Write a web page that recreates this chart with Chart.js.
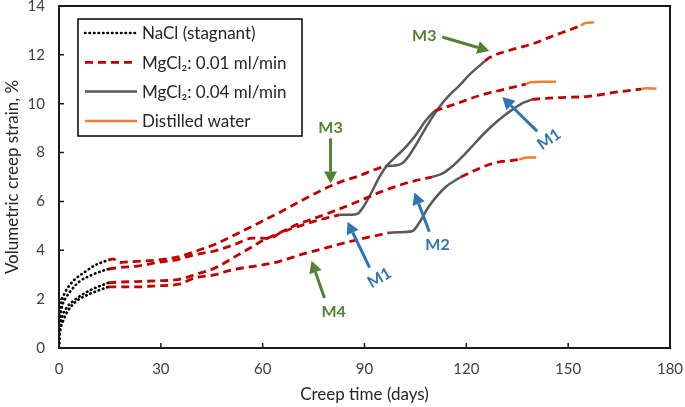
<!DOCTYPE html>
<html>
<head>
<meta charset="utf-8">
<script src="https://cdn.jsdelivr.net/npm/chart.js@4.4.1/dist/chart.umd.min.js"></script>
<style>
  html, body { margin: 0; padding: 0; background: #fff; }
  #wrap { width: 685px; height: 407px; }
</style>
</head>
<body>
<div id="wrap"><canvas id="chartCreep"></canvas></div>
<script>
// points are [creep time in days, volumetric creep strain in %]
// NaCl (stagnant) loading, four samples
const nacl1 = [[0,0],[0.1,0.8],[0.3,1.5],[0.7,1.9],[1.5,2.2],[3,2.55],[5,2.85],[7.5,3.1],[10.5,3.38],[14.5,3.6]];
const nacl2 = [[0,0],[0.1,0.7],[0.4,1.3],[1,1.75],[2,2.05],[3.5,2.35],[6,2.72],[9.5,2.98],[12,3.12],[14.5,3.23]];
const nacl3 = [[0,0],[0.1,0.5],[0.3,0.8],[1,1.3],[2,1.6],[4,1.9],[7,2.2],[10.5,2.45],[14.5,2.67]];
const nacl4 = [[0,0],[0.1,0.4],[0.5,0.8],[1.2,1.1],[2.5,1.5],[5,1.9],[8.5,2.18],[11.5,2.35],[14.5,2.5]];

// MgCl2 0.01 ml/min, first stage
const slow1a = [[14.5,3.6],[16,3.65],[17.5,3.5],[20,3.52],[23,3.55],[29,3.6],[35,3.73],[41.5,4.02],[46,4.25],[52,4.65],[60,5.2],[65,5.55],[71,6.0],[78,6.5],[84,6.85],[88.5,7.05],[92,7.25],[96,7.45]];
const slow2a = [[14.5,3.23],[18,3.3],[23,3.35],[29,3.5],[35,3.62],[40,3.82],[46,3.98],[52,4.25],[57,4.5],[60,4.5],[62,4.48],[65,4.7],[71,5.0],[76,5.22],[82.6,5.45]];
const slow3a = [[14.5,2.67],[18,2.7],[23,2.72],[29,2.75],[35,2.8],[40,3.0],[46,3.28],[52,3.75],[57,4.15],[60,4.4],[64,4.65],[70,5.05],[74,5.25],[80,5.55],[89,6.05],[95,6.4],[100,6.65],[105,6.85],[110,7.0]];
const slow4a = [[14.5,2.5],[23,2.5],[29,2.55],[35,2.6],[40,2.87],[46,3.0],[51,3.2],[60,3.4],[65,3.55],[72,3.85],[80,4.15],[88.5,4.45],[97.4,4.72]];

// MgCl2 0.04 ml/min
const fast1 = [[96,7.45],[99,7.47],[101,7.55],[103,7.85],[105.5,8.4],[108,9.0],[110,9.45],[112.5,9.95],[115,10.35],[118,10.75],[121,11.2],[125.5,11.75]];
const fast2 = [[82.6,5.45],[86,5.45],[88,5.5],[90,5.85],[92,6.35],[94,6.9],[96.5,7.45],[99,7.8],[102,8.2],[105,8.7],[108,9.3],[110.6,9.7]];
const fast3 = [[110,7.0],[113,7.15],[116,7.45],[119,7.85],[122,8.3],[125,8.75],[128,9.15],[131,9.5],[134,9.8],[137,10.05],[139.4,10.18]];
const fast4 = [[97.4,4.72],[100,4.74],[104,4.78],[106,5.1],[109,5.8],[114,6.6],[118.4,7.0]];

// MgCl2 0.01 ml/min, second stage
const slow1b = [[125.5,11.75],[127,11.9],[133,12.2],[139.5,12.45],[146,12.8],[150,13.0],[153.8,13.2]];
const slow2b = [[110.6,9.7],[117,10.0],[123.8,10.33],[130,10.55],[137.5,10.8]];
const slow3b = [[139.4,10.18],[147,10.25],[156,10.3],[163,10.45],[171.5,10.6]];
const slow4b = [[118.4,7.0],[123,7.3],[127.6,7.55],[135.6,7.72]];

// distilled water
const water1 = [[153.8,13.2],[155,13.3],[157.6,13.33]];
const water2 = [[137.5,10.8],[139,10.88],[143,10.9],[146.4,10.9]];
const water3 = [[171.5,10.6],[173,10.63],[176,10.62]];
const water4 = [[135.6,7.72],[138,7.8],[140.6,7.8]];

const xTicks = [0, 30, 60, 90, 120, 150, 180];
const yTicks = [0, 2, 4, 6, 8, 10, 12, 14];

const legendNames = ['NaCl (stagnant)', 'MgCl\u2082: 0.01 ml/min', 'MgCl\u2082: 0.04 ml/min', 'Distilled water'];

// annotation labels: text, colour, label point, arrow from -> to (data units), rotation
const notes = [
    { text: 'M3', color: '#548235', at: [107.6, 12.77], from: [112.9, 12.73], to: [126.8, 12.16], rot: 0 },
    { text: 'M3', color: '#548235', at: [80, 9.03], from: [80, 8.58], to: [80, 6.73], rot: 0 },
    { text: 'M4', color: '#548235', at: [80.9, 1.48], from: [78.2, 2.05], to: [74.4, 3.57], rot: 0 },
    { text: 'M1', color: '#2E75B6', at: [94.4, 2.87], from: [91.5, 3.29], to: [85, 5.17], rot: -30 },
    { text: 'M2', color: '#2E75B6', at: [111.5, 4.23], from: [109.1, 4.76], to: [104.7, 6.37], rot: 0 },
    { text: 'M1', color: '#2E75B6', at: [144.4, 8.54], from: [140.9, 8.87], to: [130.6, 10.27], rot: -35 }
];

const styles = [
    { color: '#000000', width: 2.6, dash: [0.5, 4] },
    { color: '#C00000', width: 2.8, dash: [8, 5] },
    { color: '#595959', width: 2.5, dash: [] },
    { color: '#ED7D31', width: 2.5, dash: [] }
];

const groups = [
    [nacl1, nacl2, nacl3, nacl4],
    [slow1a, slow2a, slow3a, slow4a, slow1b, slow2b, slow3b, slow4b],
    [fast1, fast2, fast3, fast4],
    [water1, water2, water3, water4]
];

const datasets = [];
groups.forEach((list, g) => {
    list.forEach(pts => {
        datasets.push({
            label: legendNames[g],
            data: pts.map(p => ({ x: p[0], y: p[1] })),
            borderColor: styles[g].color,
            borderWidth: styles[g].width,
            borderDash: styles[g].dash,
            borderCapStyle: g === 0 ? 'round' : 'butt',
            pointRadius: 0,
            fill: false,
            showLine: true,
            cubicInterpolationMode: 'monotone'
        });
    });
});

const FONT = 'Lato, "DejaVu Sans", sans-serif';

function drawArrow(ctx, x1, y1, x2, y2, color) {
    const a = Math.atan2(y2 - y1, x2 - x1);
    const head = 12, half = 6.5;
    const bx = x2 - head * Math.cos(a), by = y2 - head * Math.sin(a);
    ctx.strokeStyle = color;
    ctx.lineWidth = 3;
    ctx.setLineDash([]);
    ctx.beginPath();
    ctx.moveTo(x1, y1);
    ctx.lineTo(bx, by);
    ctx.stroke();
    ctx.fillStyle = color;
    ctx.beginPath();
    ctx.moveTo(x2, y2);
    ctx.lineTo(bx + half * Math.sin(a), by - half * Math.cos(a));
    ctx.lineTo(bx - half * Math.sin(a), by + half * Math.cos(a));
    ctx.closePath();
    ctx.fill();
}

const extras = {
    id: 'extras',
    afterDatasetsDraw(chart) {
        const { ctx, chartArea: area, scales } = chart;
        const px = p => [scales.x.getPixelForValue(p[0]), scales.y.getPixelForValue(p[1])];
        ctx.save();

        // frame and inward ticks
        ctx.strokeStyle = '#1a1a1a';
        ctx.lineWidth = 2;
        ctx.setLineDash([]);
        ctx.strokeRect(area.left, area.top, area.right - area.left, area.bottom - area.top);
        ctx.lineWidth = 1.5;
        ctx.beginPath();
        xTicks.forEach(t => {
            const x = scales.x.getPixelForValue(t);
            ctx.moveTo(x, area.bottom);
            ctx.lineTo(x, area.bottom - 5);
        });
        yTicks.forEach(t => {
            const y = scales.y.getPixelForValue(t);
            ctx.moveTo(area.left, y);
            ctx.lineTo(area.left + 5, y);
        });
        ctx.stroke();

        // annotations
        notes.forEach(n => {
            const f = px(n.from), t = px(n.to), c = px(n.at);
            drawArrow(ctx, f[0], f[1], t[0], t[1], n.color);
            ctx.save();
            ctx.translate(c[0], c[1]);
            ctx.rotate(n.rot * Math.PI / 180);
            ctx.fillStyle = n.color;
            ctx.font = 'bold 16px ' + FONT;
            ctx.textAlign = 'center';
            ctx.textBaseline = 'middle';
            ctx.fillText(n.text, 0, 0);
            ctx.restore();
        });

        // legend box
        const lx = area.left + 19, ly = area.top + 13;
        ctx.fillStyle = '#fff';
        ctx.fillRect(lx, ly, 224, 117);
        ctx.strokeStyle = '#000';
        ctx.lineWidth = 1.5;
        ctx.strokeRect(lx, ly, 224, 117);
        legendNames.forEach((name, i) => {
            const y = ly + 14 + i * 29.3;
            const s = styles[i];
            ctx.strokeStyle = s.color;
            ctx.lineWidth = s.width;
            ctx.setLineDash(s.dash);
            ctx.lineCap = i === 0 ? 'round' : 'butt';
            ctx.beginPath();
            ctx.moveTo(lx + 7, y);
            ctx.lineTo(lx + 59, y);
            ctx.stroke();
            ctx.setLineDash([]);
            ctx.fillStyle = '#262626';
            ctx.font = '17px ' + FONT;
            ctx.textAlign = 'left';
            ctx.textBaseline = 'middle';
            ctx.fillText(name, lx + 64, y + 1);
        });
        ctx.restore();
    }
};

new Chart(document.getElementById('chartCreep'), {
    type: 'scatter',
    data: { datasets: datasets },
    options: {
        responsive: true,
        maintainAspectRatio: false,
        animation: false,
        events: [],
        layout: { autoPadding: false, padding: { top: 6, right: 15, left: 0, bottom: 0 } },
        plugins: {
            legend: { display: false },
            tooltip: { enabled: false }
        },
        scales: {
            x: {
                type: 'linear',
                min: 0,
                max: 180,
                afterBuildTicks: s => { s.ticks = xTicks.map(v => ({ value: v })); },
                afterFit: s => { s.height = 59; s.paddingLeft = 0; s.paddingRight = 0; },
                grid: { display: false, drawTicks: false },
                border: { display: false },
                ticks: { color: '#404040', font: { family: FONT, size: 15 }, padding: 12, maxRotation: 0 },
                title: { display: true, text: 'Creep time (days)', color: '#262626', font: { family: FONT, size: 17 }, padding: { top: 0, bottom: 2 } }
            },
            y: {
                type: 'linear',
                min: 0,
                max: 14,
                afterBuildTicks: s => { s.ticks = yTicks.map(v => ({ value: v })); },
                afterFit: s => { s.width = 59; s.paddingTop = 0; s.paddingBottom = 0; },
                grid: { display: false, drawTicks: false },
                border: { display: false },
                ticks: { color: '#404040', font: { family: FONT, size: 15 }, padding: 14 },
                title: { display: true, text: 'Volumetric creep strain, %', color: '#262626', font: { family: FONT, size: 17 }, padding: { top: 2, bottom: 0 } }
            }
        }
    },
    plugins: [extras]
});
</script>
</body>
</html>
